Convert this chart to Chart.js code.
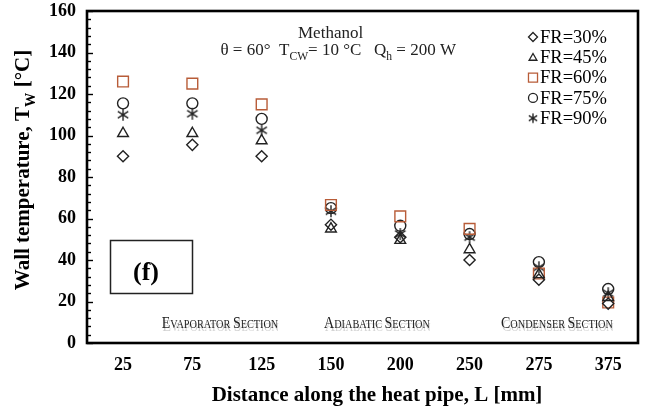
<!DOCTYPE html>
<html><head><meta charset="utf-8">
<script src="https://cdn.jsdelivr.net/npm/chart.js@4/dist/chart.umd.min.js"></script>
<style>html,body{margin:0;padding:0;background:#fff}#wrap{width:647px;height:410px;position:relative}</style>
</head><body><div id="wrap"><canvas id="c" width="647" height="410"></canvas></div>
<script>
// ---- data ----
const distances = ['25','75','125','150','200','250','275','375'];
const fr30 = [90, 95.5, 90, 57, 51, 40, 30.5, 19];
const fr45 = [101, 101, 97.5, 55, 49.5, 45, 33, 22];
const fr60 = [126, 125, 115, 66.5, 61, 55, 33.5, 19.5];
const fr75 = [115.5, 115.5, 108, 65, 56.5, 52.5, 39, 26];
const fr90 = [110, 110.5, 102.5, 63.5, 52.5, 51, 36.5, 24];
const seriesLabels = ['FR=30%','FR=45%','FR=60%','FR=75%','FR=90%'];
const sectionLabels = ['Evaporator section','Adiabatic section','Condenser section'];
const yMin = 0, yMax = 160, yMajorStep = 20, yMinorStep = 4;

// ---- styles ----
const SERIF = '"Liberation Serif", "Times New Roman", serif';
const INK = '#222';
const SQ = '#b85c38';

function asteriskImage(r, color){
  const s = Math.ceil(r*2+4), c = document.createElement('canvas');
  c.width = s; c.height = s;
  const g = c.getContext('2d'), m = s/2;
  g.strokeStyle = color; g.lineWidth = 1.4; g.beginPath();
  const d = r*0.87;
  g.moveTo(m-d, m-r*0.55); g.lineTo(m+d, m+r*0.55);
  g.moveTo(m-d, m+r*0.55); g.lineTo(m+d, m-r*0.55);
  g.moveTo(m, m-r); g.lineTo(m, m+r);
  g.stroke();
  return c;
}
const starImg = asteriskImage(6, INK);
const starImgSmall = asteriskImage(4.8, INK);

const styles = [
  {pointStyle:'rectRot', color:INK, radius:5.6},
  {pointStyle:'triangle', color:INK, radius:6.2},
  {pointStyle:'rect', color:SQ, radius:7.6},
  {pointStyle:'circle', color:INK, radius:5.5},
  {pointStyle:starImg, color:INK, radius:6}
];
const seriesData = [fr30, fr45, fr60, fr75, fr90];
const datasets = seriesData.map((d,i)=>({
  label: seriesLabels[i], data: d.map((v,k)=>({x:k, y:v})), showLine:false,
  pointStyle: styles[i].pointStyle, pointRadius: styles[i].radius, pointHoverRadius: styles[i].radius,
  borderColor: styles[i].color, pointBorderColor: styles[i].color,
  backgroundColor:'rgba(0,0,0,0)', pointBackgroundColor:'rgba(0,0,0,0)',
  pointBorderWidth: 1.4
}));

function marker(ctx, style, r, x, y, color){
  if (typeof style !== 'string') { ctx.drawImage(starImgSmall, x - starImgSmall.width/2, y - starImgSmall.height/2); return; }
  ctx.save(); ctx.strokeStyle=color; ctx.lineWidth=1.3; ctx.beginPath();
  if(style==='circle'){ctx.arc(x,y,r,0,Math.PI*2);}
  else if(style==='rect'){const s=r*Math.SQRT1_2; ctx.rect(x-s,y-s,2*s,2*s);}
  else if(style==='rectRot'){ctx.moveTo(x,y-r);ctx.lineTo(x+r,y);ctx.lineTo(x,y+r);ctx.lineTo(x-r,y);ctx.closePath();}
  else if(style==='triangle'){for(let k=0;k<3;k++){const a=k*2*Math.PI/3;const px=x+Math.sin(a)*r, py=y-Math.cos(a)*r+r*0.15; k?ctx.lineTo(px,py):ctx.moveTo(px,py);} ctx.closePath();}
  ctx.stroke(); ctx.restore();
}

function textWithSub(ctx, parts, x, y, align){
  const base = ctx.font;
  const size = parseFloat(base.match(/(\d+(\.\d+)?)px/)[1]);
  const subFont = base.replace(/(\d+(\.\d+)?)px/, (size*0.68).toFixed(1)+'px');
  let total=0; const widths=[];
  parts.forEach(p=>{ctx.font=p[1]?subFont:base; const w=ctx.measureText(p[0]).width; widths.push(w); total+=w;});
  let cx = align==='center'? x-total/2 : (align==='right'? x-total : x);
  parts.forEach((p,i)=>{ctx.font=p[1]?subFont:base; ctx.fillText(p[0], cx, p[1]? y+size*0.28 : y); cx+=widths[i];});
  ctx.font=base;
}

function smallCaps(ctx, text, cx, y, big, small, color){
  const segs=[];
  text.split(' ').forEach((w,wi)=>{
    if(wi>0) segs.push([' ', small]);
    segs.push([w[0].toUpperCase(), big]);
    segs.push([w.slice(1).toUpperCase(), small]);
  });
  let total=0; const ws=[];
  segs.forEach(s=>{ctx.font=s[1]+'px '+SERIF; const w=ctx.measureText(s[0]).width; ws.push(w); total+=w;});
  const sx=0.82;
  ctx.save(); ctx.translate(cx - total*sx/2, y); ctx.scale(sx,1);
  let px=0;
  ctx.fillStyle='rgba(150,150,150,0.45)';
  segs.forEach((s,i)=>{ctx.font=s[1]+'px '+SERIF; ctx.fillText(s[0], px+1, 3); px+=ws[i];});
  px=0; ctx.fillStyle=color;
  segs.forEach((s,i)=>{ctx.font=s[1]+'px '+SERIF; ctx.fillText(s[0], px, 0); px+=ws[i];});
  ctx.restore();
}

const decor = {
  id:'decor',
  afterDraw(chart){
    const ctx=chart.ctx, a=chart.chartArea, ys=chart.scales.y;
    ctx.save();
    ctx.strokeStyle='#000'; ctx.lineWidth=1.4;
    for(let v=yMin; v<=yMax; v+=yMinorStep){
      const py=Math.round(ys.getPixelForValue(v))+0.5;
      const len = (v % yMajorStep===0)? 6 : 4;
      ctx.beginPath(); ctx.moveTo(a.left, py); ctx.lineTo(a.left+len, py); ctx.stroke();
    }
    ctx.lineWidth=2.6; ctx.strokeStyle='#000';
    ctx.strokeRect(a.left, a.top, a.right-a.left, a.bottom-a.top);

    // axis titles
    ctx.fillStyle='#000'; ctx.textBaseline='alphabetic';
    ctx.font='bold 21px '+SERIF;
    ctx.textAlign='left';
    const xt = 'Distance along the heat pipe, L [mm]';
    const xw = ctx.measureText(xt).width;
    ctx.fillText(xt, 377 - xw/2, 401);
    ctx.save(); ctx.translate(29, 170); ctx.rotate(-Math.PI/2);
    ctx.font='bold 21px '+SERIF;
    textWithSub(ctx, [['Wall temperature, T',false],['W',true],[' [°C]',false]], 0, 0, 'center');
    ctx.restore();

    // legend
    ctx.font='18.5px '+SERIF; ctx.textBaseline='middle';
    seriesLabels.forEach((lab,i)=>{
      const yy = 37 + i*20.3;
      marker(ctx, styles[i].pointStyle, i===2?6.4:4.5, 533, yy, styles[i].color);
      ctx.fillStyle='#000'; ctx.fillText(lab, 540, yy+1);
    });

    // condition annotation
    ctx.textBaseline='alphabetic';
    ctx.font='17px '+SERIF; ctx.fillStyle='#222';
    ctx.fillText('Methanol', 298, 38);
    textWithSub(ctx, [['θ = 60°  T',false],['CW',true],['= 10 °C   Q',false],['h',true],[' = 200 W',false]], 456, 55, 'right');

    // (f) box
    ctx.lineWidth=1.5; ctx.strokeStyle='#222';
    ctx.strokeRect(110.5, 240.5, 82, 53);
    ctx.font='bold 26px '+SERIF; ctx.fillStyle='#000'; ctx.textAlign='center';
    ctx.fillText('(f)', 146, 280);

    // section labels
    ctx.textAlign='left';
    smallCaps(ctx, sectionLabels[0], 220, 328, 17, 12.5, '#222');
    smallCaps(ctx, sectionLabels[1], 377, 328, 17, 12.5, '#222');
    smallCaps(ctx, sectionLabels[2], 557, 328, 17, 12.5, '#222');
    ctx.restore();
  }
};

new Chart(document.getElementById('c'), {
  type:'scatter',
  data:{ datasets },
  options:{
    responsive:false, animation:false, devicePixelRatio:1,
    layout:{ padding:{ top:11, right:5, left:0, bottom:0 } },
    plugins:{ legend:{display:false}, tooltip:{enabled:false} },
    scales:{
      x:{ type:'linear', min:-0.52, max:7.43,
          grid:{display:false, drawTicks:false}, border:{display:false},
          afterBuildTicks(s){ s.ticks = distances.map((_,i)=>({value:i})); },
          ticks:{ color:'#000', font:{family:SERIF, size:18, weight:'bold'}, padding:12, maxRotation:0, autoSkip:false,
                  callback:(v)=> distances[v] ?? '' },
          afterFit(s){ s.height = 67; s.paddingLeft = 0; s.paddingRight = 0; } },
      y:{ min:yMin, max:yMax,
          grid:{display:false, drawTicks:false}, border:{display:false},
          ticks:{ stepSize:yMinorStep, autoSkip:false, color:'#000', font:{family:SERIF, size:18, weight:'bold'}, padding:11,
                  callback:(v)=> (v % yMajorStep===0 ? String(v) : '') },
          afterFit(s){ s.width = 87; s.paddingTop = 0; s.paddingBottom = 0; } }
    }
  },
  plugins:[decor]
});
</script>
</body></html>
